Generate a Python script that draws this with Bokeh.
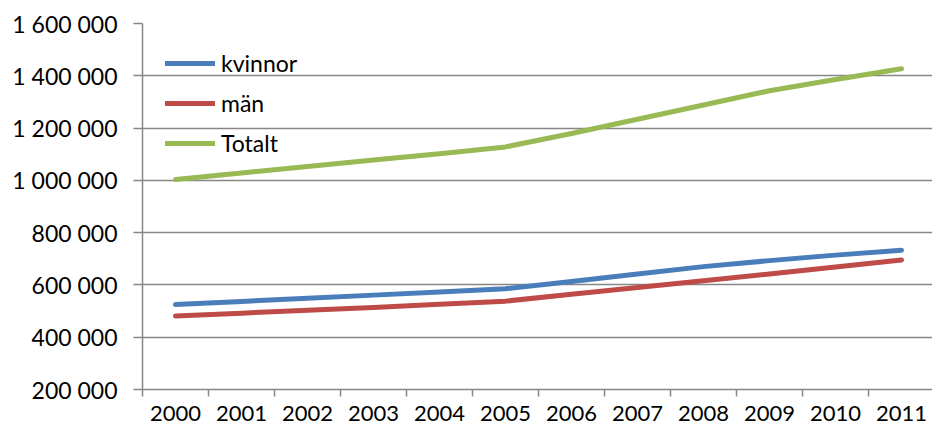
from bokeh.plotting import figure
from bokeh.models import FixedTicker, Range1d, Legend, LegendItem
from bokeh.embed import file_html
from bokeh.resources import INLINE

years = ["2000", "2001", "2002", "2003", "2004", "2005",
         "2006", "2007", "2008", "2009", "2010", "2011"]
kvinnor = [525000, 537000, 549000, 561000, 573000, 585000,
           613000, 642000, 670000, 693000, 714000, 733000]
man = [481000, 492000, 503000, 514000, 526000, 538000,
       564000, 590000, 616000, 642000, 669000, 695000]
totalt = [1003000, 1028000, 1053000, 1078000, 1102000, 1128000,
          1179000, 1234000, 1288000, 1343000, 1386000, 1427000]
y_ticks = [200000, 400000, 600000, 800000, 1000000, 1200000, 1400000, 1600000]
y_tick_labels = ["200 000", "400 000", "600 000", "800 000",
                 "1 000 000", "1 200 000", "1 400 000", "1 600 000"]

FONT = "Lato"
GRAY = "#878787"

x = list(range(len(years)))

p = figure(width=932, height=426, output_backend="svg", toolbar_location=None,
           x_range=Range1d(-0.5, 11.47), y_range=Range1d(200000, 1600000),
           min_border_left=142, min_border_right=0, min_border_top=23,
           min_border_bottom=37)
p.outline_line_color = None
p.background_fill_color = "white"
p.border_fill_color = "white"

r1 = p.line(x, kvinnor, line_color="#4A7EBB", line_width=5, line_cap="round", line_join="round")
r2 = p.line(x, man, line_color="#BE4B48", line_width=5, line_cap="round", line_join="round")
r3 = p.line(x, totalt, line_color="#98B954", line_width=5, line_cap="round", line_join="round")

# x axis: labels at category centres, ticks at category boundaries
xa = p.xaxis[0]
xa.ticker = FixedTicker(ticks=x, minor_ticks=[i - 0.5 for i in range(len(years) + 1)])
xa.major_label_overrides = {i: years[i] for i in x}
xa.major_tick_line_color = None
xa.major_tick_out = 0
xa.major_tick_in = 0
xa.minor_tick_line_color = GRAY
xa.minor_tick_line_width = 1.5
xa.minor_tick_out = 7
xa.minor_tick_in = 0
xa.axis_line_color = GRAY
xa.axis_line_width = 1.5
xa.major_label_text_font = FONT
xa.major_label_text_font_size = "22px"
xa.major_label_text_color = "black"
xa.major_label_standoff = 9

ya = p.yaxis[0]
ya.ticker = FixedTicker(ticks=y_ticks)
ya.major_label_overrides = {t: l for t, l in zip(y_ticks, y_tick_labels)}
ya.major_tick_line_color = GRAY
ya.major_tick_line_width = 1.5
ya.major_tick_out = 9
ya.major_tick_in = 0
ya.minor_tick_line_color = None
ya.axis_line_color = GRAY
ya.axis_line_width = 1.5
ya.major_label_text_font = FONT
ya.major_label_text_font_size = "23px"
ya.major_label_text_color = "black"
ya.major_label_standoff = 16

p.xgrid.grid_line_color = None
p.ygrid.ticker = FixedTicker(ticks=y_ticks)
p.ygrid.grid_line_color = GRAY
p.ygrid.grid_line_width = 1.5

legend = Legend(items=[LegendItem(label="kvinnor", renderers=[r1]),
                       LegendItem(label="män", renderers=[r2]),
                       LegendItem(label="Totalt", renderers=[r3])],
                location=(23, 232), orientation="vertical",
                padding=0, margin=0, spacing=12,
                glyph_width=50, glyph_height=20, label_height=20,
                label_standoff=6,
                label_text_font=FONT, label_text_font_size="23px",
                label_text_color="black",
                border_line_color=None, background_fill_alpha=0)
p.add_layout(legend, "center")

open("out.html", "w").write(file_html(p, INLINE))
